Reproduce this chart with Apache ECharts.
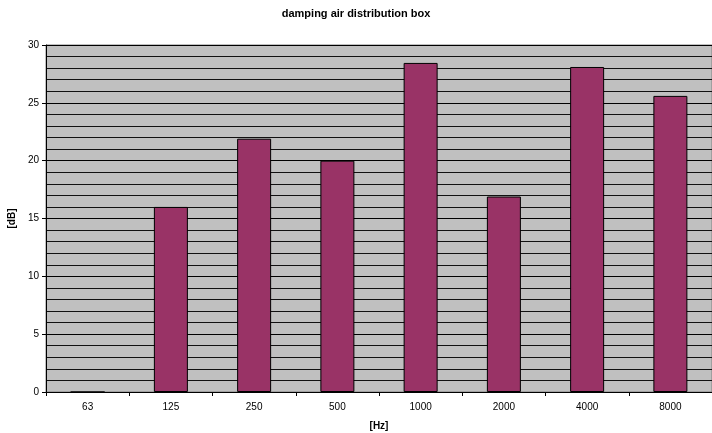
<!DOCTYPE html>
<html><head><meta charset="utf-8">
<script src="https://cdn.jsdelivr.net/npm/echarts@6/dist/echarts.min.js"></script>
<style>html,body{margin:0;padding:0;background:#fff}#c{width:712px;height:433px}</style>
</head><body><div id="c"></div>
<script>
const categories = ['63','125','250','500','1000','2000','4000','8000'];
const values = [0, 16, 21.9, 20, 28.45, 16.9, 28.1, 25.6];
const titleText = 'damping air distribution box';
const xName = '[Hz]';
const yName = '[dB]';

const font = 'Liberation Sans, Arial';
const chart = echarts.init(document.getElementById('c'));
chart.setOption({
  animation: false,
  title: {text: titleText, left: 'center', top: 3,
    textStyle: {fontFamily: font, fontSize: 11, fontWeight: 'bold', color: '#000'}},
  grid: {left: 46, right: 0, top: 45, bottom: 41, outerBoundsMode: 'none', containLabel: false,
    show: true, backgroundColor: '#c0c0c0', borderColor: '#808080', borderWidth: 1},
  xAxis: {type: 'category', data: categories,
    name: xName, nameLocation: 'middle', nameGap: 29,
    nameTextStyle: {fontFamily: font, fontSize: 10, fontWeight: 'bold', color: '#000'},
    axisLine: {lineStyle: {color: '#000', width: 1}},
    axisTick: {show: true, alignWithLabel: false, length: 4, lineStyle: {color: '#000'}},
    axisLabel: {fontFamily: font, fontSize: 10, color: '#000', margin: 10}},
  yAxis: {type: 'value', min: 0, max: 30, interval: 5,
    name: yName, nameLocation: 'middle', nameGap: 28, nameRotate: 90,
    nameTextStyle: {fontFamily: font, fontSize: 10, fontWeight: 'bold', color: '#000'},
    axisLine: {show: true, lineStyle: {color: '#000', width: 1}},
    axisTick: {show: true, length: 4, lineStyle: {color: '#000'}},
    minorTick: {show: false, splitNumber: 5},
    axisLabel: {fontFamily: font, fontSize: 10, color: '#000', margin: 7},
    splitLine: {show: true, lineStyle: {color: '#000', width: 1}},
    minorSplitLine: {show: true, lineStyle: {color: '#111', width: 1}}},
  series: [{type: 'bar', data: values, barWidth: 34,
    itemStyle: {color: '#993366', borderColor: '#000', borderWidth: 1}}]
});
</script></body></html>
